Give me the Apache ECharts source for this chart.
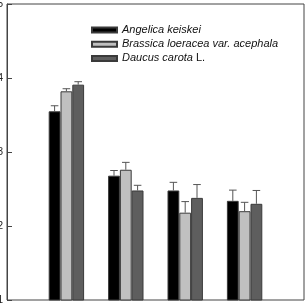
<!DOCTYPE html>
<html><head><meta charset="utf-8">
<script src="https://cdn.jsdelivr.net/npm/echarts@6/dist/echarts.min.js"></script>
<style>html,body{margin:0;padding:0;background:#fff}#c{width:306px;height:305px}</style>
</head><body><div id="c"></div>
<script>
const categories = ['1', '2', '3', '4'];
const seriesNames = ['Angelica keiskei', 'Brassica loeracea var. acephala', 'Daucus carota L.'];
const angelica = [3.55, 2.68, 2.48, 2.34];
const brassica = [3.82, 2.76, 2.18, 2.20];
const daucus = [3.91, 2.48, 2.38, 2.30];
const angelicaErr = [0.075, 0.07, 0.11, 0.145];
const brassicaErr = [0.035, 0.10, 0.15, 0.12];
const daucusErr = [0.04, 0.07, 0.18, 0.18];
const yTicks = [1, 2, 3, 4, 5];

const values = [angelica, brassica, daucus];
const errs = [angelicaErr, brassicaErr, daucusErr];
const colors = ['#000000', '#c0c0c0', '#5e5e5e'];
const BW = 11.8;

const chart = echarts.init(document.getElementById('c'));
const series = [];
values.forEach((vals, i) => {
  series.push({
    name: seriesNames[i], type: 'bar', xAxisIndex: 1, yAxisIndex: 1,
    data: vals, barWidth: BW, barGap: '0%',
    itemStyle: { color: colors[i], borderColor: '#3a3a3a', borderWidth: 1 },
    silent: true
  });
});
values.forEach((vals, i) => {
  series.push({
    type: 'custom', xAxisIndex: 1, yAxisIndex: 1, silent: true, z: 5,
    data: vals.map((v, k) => [k, v, errs[i][k]]),
    renderItem: function (params, api) {
      const x = api.value(0), y = api.value(1), e = api.value(2);
      const p0 = api.coord([x, y]);
      const p1 = api.coord([x, y + e]);
      const cx = p0[0] + (i - 1) * BW;
      const half = 3.8;
      return {
        type: 'group', children: [
          { type: 'line', shape: { x1: cx, y1: p0[1], x2: cx, y2: p1[1] }, style: { stroke: '#555', lineWidth: 1 } },
          { type: 'line', shape: { x1: cx - half, y1: p1[1], x2: cx + half, y2: p1[1] }, style: { stroke: '#555', lineWidth: 1 } }
        ]
      };
    }
  });
});

chart.setOption({
  animation: false,
  grid: [
    { left: 7, right: 2, top: 4, bottom: 5, show: true, borderColor: '#444', borderWidth: 1, backgroundColor: 'transparent', outerBoundsMode: 'none', containLabel: false },
    { left: 36.7, right: 31.7, top: 4, bottom: 5, outerBoundsMode: 'none', containLabel: false }
  ],
  legend: {
    orient: 'vertical', left: 91, top: 24, padding: 0, icon: 'rect',
    itemWidth: 25, itemHeight: 5, itemGap: 2.2,
    data: seriesNames,
    textStyle: {
      fontFamily: 'Liberation Sans', fontSize: 11, color: '#111', fontStyle: 'italic', lineHeight: 12,
      rich: { n: { fontStyle: 'normal', fontFamily: 'Liberation Sans', fontSize: 11, color: '#111' } }
    },
    formatter: function (name) {
      if (name === 'Daucus carota L.') return 'Daucus carota{n| L.}';
      return name;
    }
  },
  xAxis: [
    { type: 'category', gridIndex: 0, data: categories, show: false },
    { type: 'category', gridIndex: 1, data: categories, show: false }
  ],
  yAxis: [
    {
      type: 'value', gridIndex: 0, min: yTicks[0], max: yTicks[yTicks.length - 1], interval: 1,
      axisLine: { show: true, lineStyle: { color: '#444', width: 1 } },
      axisTick: { show: true, inside: true, length: 5, lineStyle: { color: '#444' } },
      axisLabel: { margin: 4, fontSize: 10, fontFamily: 'Liberation Sans', color: '#222' },
      splitLine: { show: false }
    },
    { type: 'value', gridIndex: 1, min: yTicks[0], max: yTicks[yTicks.length - 1], show: false, splitLine: { show: false } }
  ],
  series: series
});
</script></body></html>
